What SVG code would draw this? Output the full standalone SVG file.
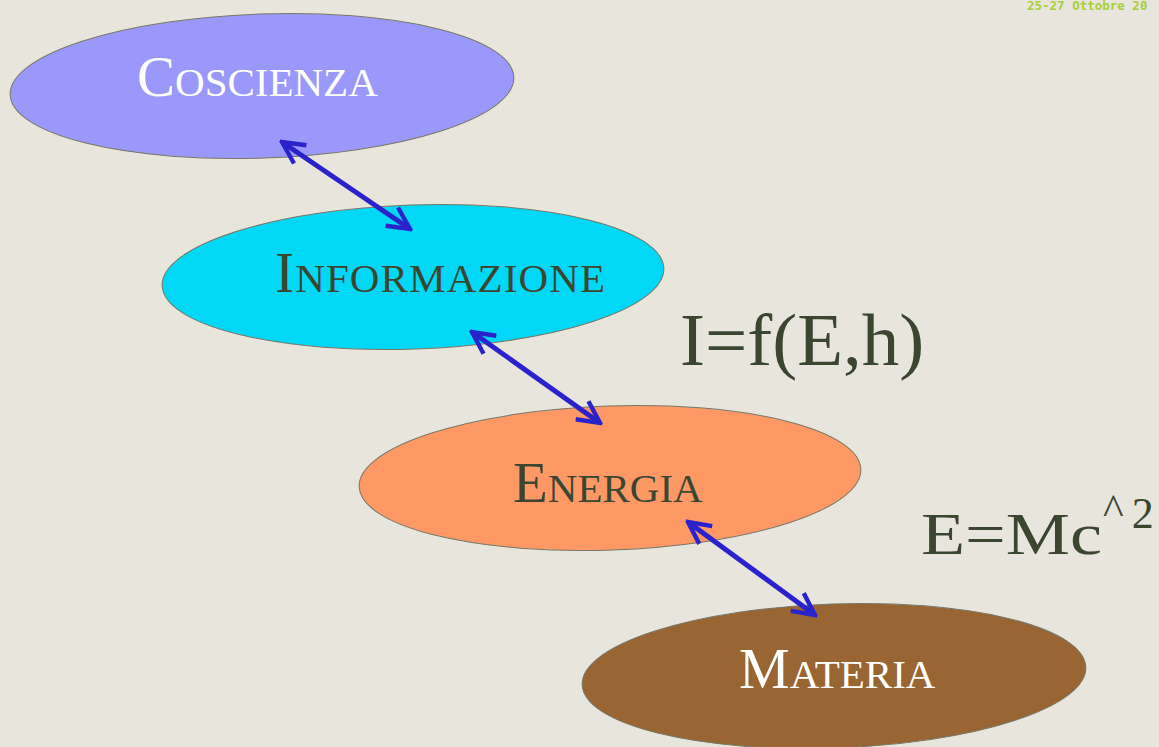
<svg xmlns="http://www.w3.org/2000/svg" width="1159" height="747" viewBox="0 0 1159 747">
<style>
.node{stroke:#777766;stroke-width:1}
.lbl{font-family:"Liberation Serif","Times New Roman",serif;font-size:41px}
.cap{font-size:57px}
.dark{fill:#3b4630}
.white{fill:#ffffff}
.conn{stroke:#2a22cc;stroke-width:5;fill:none;marker-start:url(#ah);marker-end:url(#ah)}
.eq{font-family:"Liberation Serif","Times New Roman",serif;fill:#3b4630}
</style>
<defs>
<marker id="ah" viewBox="0 0 10 10" refX="9" refY="5" markerWidth="5.5" markerHeight="5.5" orient="auto-start-reverse" markerUnits="strokeWidth">
<path d="M1,1 L9,5 L1,9" fill="none" stroke="#2a22cc" stroke-width="1.6"/>
</marker>
</defs>
<rect width="1159" height="747" fill="#e8e5dc"/>
<text x="1027" y="10" font-family="DejaVu Sans Mono,monospace" font-size="12.5" fill="#a8d038" font-weight="bold">25-27 Ottobre 20</text>
<g id="coscienza">
<ellipse class="node" cx="262" cy="86" rx="252" ry="72" fill="#9a99fb" transform="rotate(-2 262 86)"/>
<text class="lbl white" x="137" y="96"><tspan class="cap">C</tspan>OSCIENZA</text>
</g>
<g id="informazione">
<ellipse class="node" cx="413" cy="277" rx="251" ry="72" fill="#00d8f6" transform="rotate(-2 413 277)"/>
<text class="lbl dark" x="275" y="292" textLength="330" lengthAdjust="spacing"><tspan class="cap">I</tspan>NFORMAZIONE</text>
</g>
<g id="energia">
<ellipse class="node" cx="610" cy="478" rx="251" ry="72" fill="#fe9966" transform="rotate(-2 610 478)"/>
<text class="lbl dark" x="513" y="502"><tspan class="cap">E</tspan>NERGIA</text>
</g>
<g id="materia">
<ellipse class="node" cx="834" cy="676" rx="252" ry="72" fill="#996532" transform="rotate(-2 834 676)"/>
<text class="lbl white" x="739" y="688"><tspan class="cap">M</tspan>ATERIA</text>
</g>
<g id="formula1"><text class="eq" x="680" y="365" font-size="75">I=f(E,h)</text></g>
<g id="formula2">
<text class="eq" x="921" y="554" font-size="60" textLength="181" lengthAdjust="spacingAndGlyphs">E=Mc</text>
<text class="eq" x="1103" y="528" font-size="44"><tspan dy="-4">^</tspan><tspan dy="4" dx="8">2</tspan></text>
</g>
<g id="connectors">
<line class="conn" x1="282" y1="142" x2="410" y2="229"/>
<line class="conn" x1="472" y1="332" x2="600" y2="423"/>
<line class="conn" x1="688" y1="522" x2="815" y2="615"/>
</g>
</svg>
